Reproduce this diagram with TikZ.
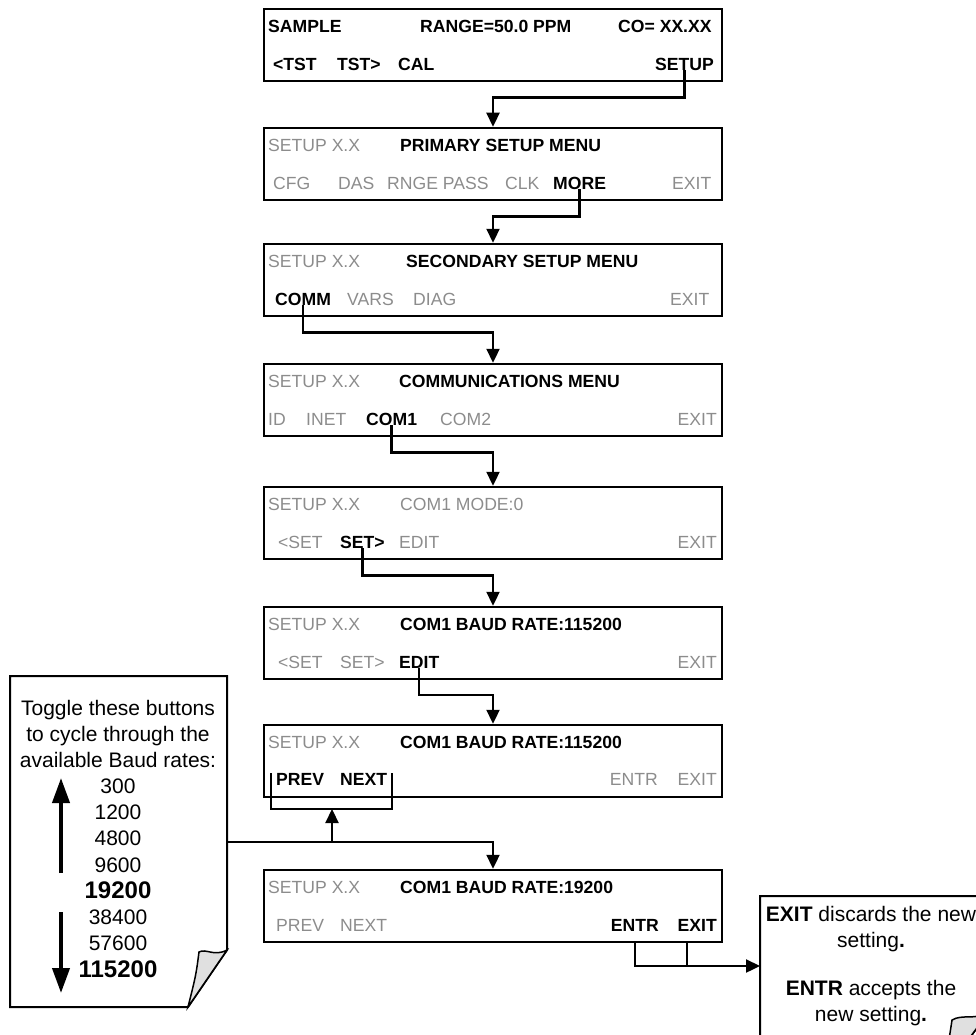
\documentclass[tikz,border=0pt]{standalone}
\usepackage{fontspec}
\setmainfont{Liberation Sans}
\usepackage{tikz}
\usetikzlibrary{arrows.meta}
\definecolor{dimgray}{gray}{0.55}

\begin{document}
\begin{tikzpicture}[x=1pt,y=-1pt,
  % display screens and their texts
  screen/.style={draw=black,line width=2.5pt,minimum width=458pt,minimum height=72pt,inner sep=0pt},
  key/.style={font=\fontsize{17.6}{20}\selectfont\bfseries,inner sep=0pt,text=black},
  dim/.style={font=\fontsize{17.6}{20}\selectfont,inner sep=0pt,text=dimgray},
  line/.style={draw=black,line width=2.3pt},
  conn/.style={line,-{Triangle[length=14pt,width=13pt]}},
  notetext/.style={font=\fontsize{21}{26.3}\selectfont,align=center,inner sep=0pt}
]
\useasboundingbox (0,0) rectangle (976,1035);

\node[screen] (b1) at (493,45)  {};  % top
\node[screen] (b2) at (493,164) {};
\node[screen] (b3) at (493,280) {};
\node[screen] (b4) at (493,400) {};
\node[screen] (b5) at (493,523) {};
\node[screen] (b6) at (493,643) {};
\node[screen] (b7) at (493,761) {};
\node[screen] (b8) at (493,906) {};  % bottom

% screen 1
\node[key,anchor=west] (sample) at (268,26) {SAMPLE};
\node[key,anchor=west] (range)  at (420,26) {RANGE=50.0 PPM};
\node[key,anchor=west] (co)     at (618,26) {CO= XX.XX};
\node[key,anchor=west] (tstl)   at (273,64) {<TST};
\node[key,anchor=west] (tstr)   at (337,64) {TST>};
\node[key,anchor=west] (cal)    at (398,64) {CAL};
\node[key,anchor=east] (setupkey) at (714,64) {SETUP};

% screen 2
\node[dim,anchor=west] (su2)     at (268,145) {SETUP X.X};
\node[key,anchor=west] (primary) at (400,145) {PRIMARY SETUP MENU};
\node[dim,anchor=west] (cfg)     at (273,183) {CFG};
\node[dim,anchor=west] (das)     at (338,183) {DAS};
\node[dim,anchor=west] (rnge)    at (387,183) {RNGE PASS};
\node[dim,anchor=west] (clk)     at (505,183) {CLK};
\node[key,anchor=west] (more)    at (553,183) {MORE};
\node[dim,anchor=west] (exit2)   at (672,183) {EXIT};

% screen 3
\node[dim,anchor=west] (su3)       at (268,261) {SETUP X.X};
\node[key,anchor=west] (secondary) at (406,261) {SECONDARY SETUP MENU};
\node[key,anchor=west] (comm)      at (275,299) {COMM};
\node[dim,anchor=west] (vars)      at (347,299) {VARS};
\node[dim,anchor=west] (diag)      at (413,299) {DIAG};
\node[dim,anchor=west] (exit3)     at (670,299) {EXIT};

% screen 4
\node[dim,anchor=west] (su4)   at (268,381) {SETUP X.X};
\node[key,anchor=west] (commu) at (399,381) {COMMUNICATIONS MENU};
\node[dim,anchor=west] (id)    at (268,419) {ID};
\node[dim,anchor=west] (inet)  at (306,419) {INET};
\node[key,anchor=west] (com1)  at (366,419) {COM1};
\node[dim,anchor=west] (com2)  at (440,419) {COM2};
\node[dim,anchor=east] (exit4) at (717,419) {EXIT};

% screen 5
\node[dim,anchor=west] (su5)   at (268,504) {SETUP X.X};
\node[dim,anchor=west] (mode)  at (400,504) {COM1 MODE:0};
\node[dim,anchor=west] (setl5) at (278,542) {<SET};
\node[key,anchor=west] (setr5) at (340,542) {SET>};
\node[dim,anchor=west] (edit5) at (399,542) {EDIT};
\node[dim,anchor=east] (exit5) at (717,542) {EXIT};

% screen 6
\node[dim,anchor=west] (su6)   at (268,624) {SETUP X.X};
\node[key,anchor=west] (baud6) at (400,624) {COM1 BAUD RATE:115200};
\node[dim,anchor=west] (setl6) at (278,662) {<SET};
\node[dim,anchor=west] (setr6) at (340,662) {SET>};
\node[key,anchor=west] (edit6) at (399,662) {EDIT};
\node[dim,anchor=east] (exit6) at (717,662) {EXIT};

% screen 7
\node[dim,anchor=west] (su7)   at (268,742) {SETUP X.X};
\node[key,anchor=west] (baud7) at (400,742) {COM1 BAUD RATE:115200};
\node[key,anchor=west] (prev7) at (276,779) {PREV};
\node[key,anchor=west] (next7) at (340,779) {NEXT};
\node[dim,anchor=east] (entr7) at (658,779) {ENTR};
\node[dim,anchor=east] (exit7) at (717,779) {EXIT};

% screen 8
\node[dim,anchor=west] (su8)   at (268,887) {SETUP X.X};
\node[key,anchor=west] (baud8) at (400,887) {COM1 BAUD RATE:19200};
\node[dim,anchor=west] (prev8) at (276,925) {PREV};
\node[dim,anchor=west] (next8) at (340,925) {NEXT};
\node[key,anchor=east] (entr8) at (659,925) {ENTR};
\node[key,anchor=east] (exit8) at (717,925) {EXIT};

% key presses
\draw[conn] (setupkey.south) -- ++(0,27) -| (b2.north);
\draw[conn] (more.south) -- ++(0,27) -| (b3.north);
\draw[conn] (comm.south) -- ++(0,27) -| (b4.north);
\draw[conn] (com1.south) -- ++(0,27) -| (b5.north);
\draw[conn] (setr5.south) -- ++(0,27) -| (b6.north);
\draw[conn] (edit6.south) -- ++(0,27) -| (b7.north);

% left note
\draw[line,line width=2pt] (10,676) -- (227,676) -- (227,950) -- (188,1007) -- (10,1007) -- cycle;
\filldraw[draw=black,line width=1.5pt,fill=black!12] (227,950) .. controls (214,957) and (206,948) .. (199,952) .. controls (196,975) .. (188,1007) -- cycle;
\node[notetext] (togglehead) at (118,734) {Toggle these buttons\\to cycle through the\\available Baud rates:};
\node[notetext] (rates) at (118,878) {300\\1200\\4800\\9600\\{\fontsize{24}{26}\selectfont\bfseries 19200}\\38400\\57600\\{\fontsize{24}{26}\selectfont\bfseries 115200}};
\draw[line width=4pt,-{Triangle[length=25pt,width=17pt]}] (61,873) -- (61,778);
\draw[line width=4pt,-{Triangle[length=25pt,width=17pt]}] (61,912) -- (61,993);

% PREV / NEXT
\coordinate (togglout) at (227,842);
\coordinate (brl) at (271,773);
\coordinate (brr) at (392,773);
\coordinate (brm) at (332,809);
\draw[line] (brl) |- (brr |- brm) -- (brr);
\draw[conn] (brm |- togglout) -- (brm);
\draw[conn] (togglout) -| (b8.north);

% right note
\draw[line,line width=2pt] (760,896) -- (988,896) -- (988,1013) -- (942,1075) -- (760,1075) -- cycle;
\filldraw[draw=black,line width=1.5pt,fill=black!12] (988,1013) .. controls (975,1020) and (962,1014) .. (952,1020) .. controls (949,1040) .. (942,1075) -- cycle;
\node[notetext] (exitnote) at (871,966) {\textbf{EXIT} discards the new\\setting\textbf{.}\\[21pt]\textbf{ENTR} accepts the\\new setting\textbf{.}};

% ENTR / EXIT
\coordinate (exitin) at (760,966);
\draw[conn] (entr8 |- b8.south) |- (exitin);
\draw[line] ([xshift=-10pt]exit8 |- b8.south) -- ([xshift=-10pt]exit8 |- exitin);

\end{tikzpicture}
\end{document}
